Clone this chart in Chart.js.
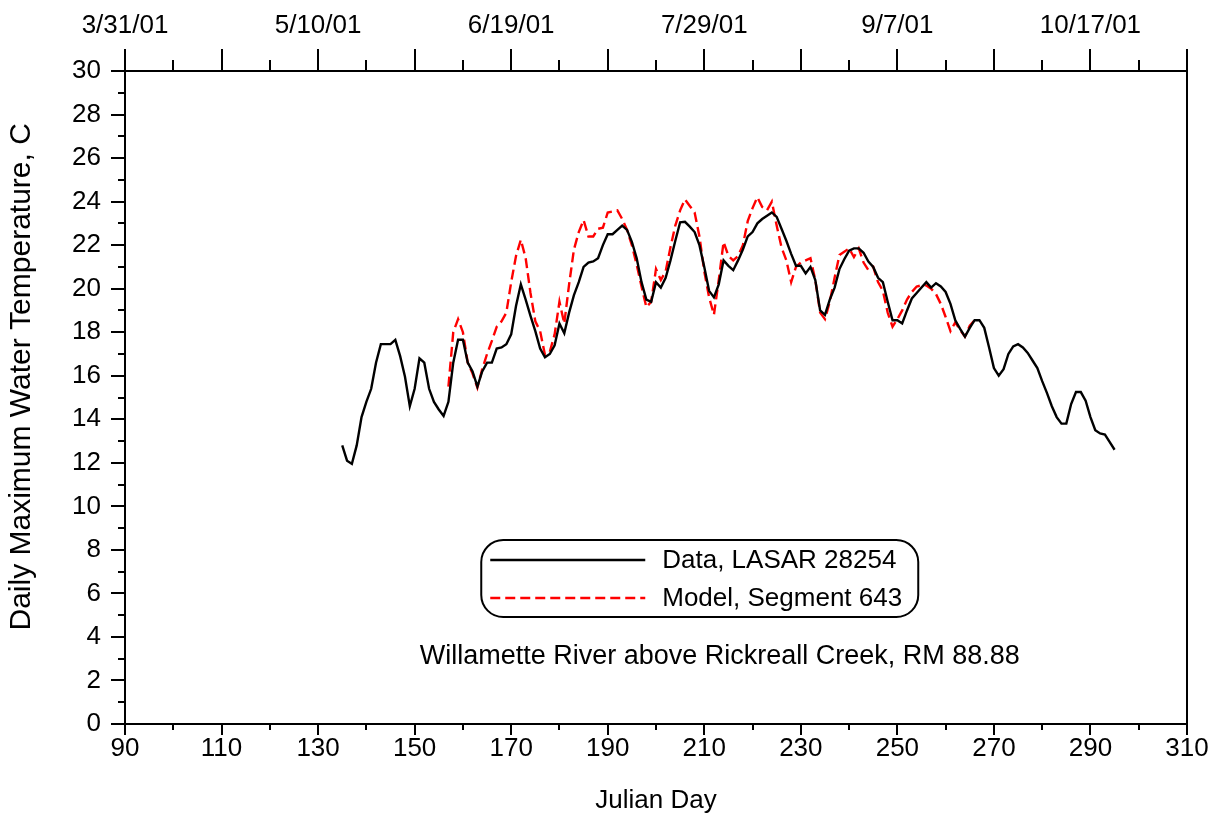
<!DOCTYPE html>
<html>
<head>
<meta charset="utf-8">
<script src="https://cdn.jsdelivr.net/npm/chart.js@4.4.1/dist/chart.umd.min.js"></script>
<style>
  body { margin: 0; background: #fff; }
  canvas { display: block; }
</style>
</head>
<body>
<canvas id="myChart" width="1216" height="816"></canvas>
<script>
// Daily max water temperature, LASAR 28254 (one value per day starting at day 135)
var dataStartDay = 135;
var dataTemps = [
    12.8, 12.1, 11.95, 12.8, 14.1, 14.8, 15.4, 16.6, 17.45, 17.45,
    17.45, 17.65, 16.9, 15.95, 14.6, 15.4, 16.8, 16.6, 15.4, 14.8,
    14.45, 14.15, 14.8, 16.6, 17.65, 17.65, 16.6, 16.2, 15.5, 16.2,
    16.6, 16.6, 17.25, 17.3, 17.45, 17.9, 19.2, 20.2, 19.5, 18.75,
    18.05, 17.25, 16.85, 17.0, 17.4, 18.4, 17.95, 18.9, 19.7, 20.3,
    21.0, 21.2, 21.25, 21.4, 22.0, 22.5, 22.5, 22.7, 22.9, 22.7,
    22.15, 21.4, 20.3, 19.5, 19.4, 20.3, 20.05, 20.5, 21.3, 22.2,
    23.05, 23.07, 22.85, 22.6, 22.0, 21.0, 19.9, 19.6, 20.2, 21.3,
    21.05, 20.85, 21.3, 21.8, 22.4, 22.6, 23.0, 23.2, 23.35, 23.5,
    23.3, 22.75, 22.2, 21.6, 21.05, 21.05, 20.7, 21.0, 20.4, 19.0,
    18.8, 19.5, 20.05, 20.9, 21.35, 21.75, 21.85, 21.85, 21.65, 21.25,
    21.0, 20.5, 20.3, 19.4, 18.55, 18.55, 18.4, 19.0, 19.55, 19.8,
    20.05, 20.3, 20.05, 20.25, 20.1, 19.85, 19.3, 18.55, 18.15, 17.8,
    18.2, 18.55, 18.55, 18.2, 17.3, 16.35, 16.0, 16.3, 17.0, 17.35,
    17.45, 17.3, 17.05, 16.7, 16.35, 15.75, 15.2, 14.6, 14.1, 13.8,
    13.8, 14.7, 15.25, 15.25, 14.85, 14.1, 13.5, 13.35, 13.3, 12.95,
    12.6
];

// Model output, segment 643 (one value per day starting at day 157)
var modelStartDay = 157;
var modelTemps = [
    15.5, 18.0, 18.6, 18.0, 16.6, 16.1, 15.45, 16.3, 17.0, 17.6,
    18.25, 18.5, 18.9, 20.3, 21.5, 22.25, 21.4, 19.8, 18.5, 18.05,
    16.95, 17.1, 17.9, 19.4, 18.4, 20.2, 21.8, 22.6, 23.15, 22.4,
    22.4, 22.75, 22.8, 23.5, 23.55, 23.6, 23.2, 22.7, 22.0, 21.1,
    20.1, 19.15, 19.4, 20.9, 20.4, 20.8, 21.9, 22.9, 23.6, 24.1,
    23.8, 23.5, 22.4, 20.8, 19.6, 18.8, 20.4, 22.15, 21.5, 21.3,
    21.5, 22.0, 23.1, 23.7, 24.2, 23.75, 23.6, 24.0, 22.9, 21.9,
    21.3, 20.3, 21.0, 21.2, 21.3, 21.4, 20.4, 18.9, 18.6, 19.4,
    20.5, 21.55, 21.7, 21.85, 21.45, 21.85, 21.2, 20.85, 21.0, 20.3,
    19.9, 18.9, 18.25, 18.6, 19.0, 19.5, 19.85, 20.1, 20.15, 20.15,
    20.0, 19.75, 19.3, 18.7, 18.05, 18.45, 18.1, 17.8, 18.3, 18.55
];

// top axis date labels (julian day -> date)
var topTickDays = [90, 130, 170, 210, 250, 290];
var topTickLabels = ['3/31/01', '5/10/01', '6/19/01', '7/29/01', '9/7/01', '10/17/01'];

var seriesLabels = ['Data, LASAR 28254', 'Model, Segment 643'];
var noteText = 'Willamette River above Rickreall Creek, RM 88.88';
var yTitle = 'Daily Maximum Water Temperature, C';

var FONT = 'Liberation Sans, Arial, sans-serif';
var FS = 26;

function toPoints(start, vals) {
    var pts = [];
    for (var i = 0; i < vals.length; i++) pts.push({x: start + i, y: vals[i]});
    return pts;
}

// draws major/minor tick marks on the axes
var axisMarks = {
    id: 'axisMarks',
    afterDraw: function (chart) {
        var ctx = chart.ctx, a = chart.chartArea;
        var sx = chart.scales.x, sy = chart.scales.y;
        ctx.save();
        ctx.strokeStyle = '#000';
        ctx.lineWidth = 2;
        ctx.beginPath();
        for (var d = sx.min; d <= sx.max; d += 10) {
            var px = Math.round(sx.getPixelForValue(d));
            var major = (d - sx.min) % 20 === 0;
            ctx.moveTo(px, a.bottom); ctx.lineTo(px, a.bottom + (major ? 11 : 6));
            ctx.moveTo(px, a.top); ctx.lineTo(px, a.top - (major ? 22 : 11));
        }
        for (var v = sy.min; v <= sy.max; v += 1) {
            var py = Math.round(sy.getPixelForValue(v));
            var maj = v % 2 === 0;
            ctx.moveTo(a.left, py); ctx.lineTo(a.left - (maj ? 14 : 7), py);
        }
        ctx.stroke();

        // y axis title, sits a bit above the middle of the axis
        ctx.translate(22, sy.getPixelForValue(15.95));
        ctx.rotate(-Math.PI / 2);
        ctx.font = '30px ' + FONT;
        ctx.fillStyle = '#000';
        ctx.textAlign = 'center';
        ctx.textBaseline = 'middle';
        ctx.fillText(yTitle, 0, 0);
        ctx.restore();
    }
};

// legend box + note inside the plot
var boxLegend = {
    id: 'boxLegend',
    afterDraw: function (chart) {
        var ctx = chart.ctx;
        var sx = chart.scales.x, sy = chart.scales.y;
        var bx = sx.getPixelForValue(163.8), by = sy.getPixelForValue(8.45);
        var bw = 437, bh = 77;
        ctx.save();
        ctx.strokeStyle = '#000';
        ctx.lineWidth = 2;
        ctx.beginPath();
        ctx.roundRect(bx, by, bw, bh, 22);
        ctx.stroke();
        ctx.font = FS + 'px ' + FONT;
        ctx.textBaseline = 'middle';
        ctx.fillStyle = '#000';
        chart.data.datasets.forEach(function (ds, i) {
            var ly = by + 20 + i * 38;
            ctx.beginPath();
            ctx.strokeStyle = ds.borderColor;
            ctx.lineWidth = ds.borderWidth;
            ctx.setLineDash(ds.borderDash || []);
            ctx.moveTo(bx + 9, ly);
            ctx.lineTo(bx + 164, ly);
            ctx.stroke();
            ctx.setLineDash([]);
            ctx.fillText(ds.label, bx + 181, ly + 1);
        });
        ctx.textAlign = 'center';
        ctx.font = '27px ' + FONT;
        ctx.fillText(noteText, bx + bw / 2 + 20, by + bh + 39);
        ctx.restore();
    }
};

function createChart() {
    var ctx = document.getElementById('myChart').getContext('2d');
    var tickFont = {family: FONT, size: FS};
    new Chart(ctx, {
        type: 'line',
        data: {
            datasets: [
                {
                    label: seriesLabels[0],
                    data: toPoints(dataStartDay, dataTemps),
                    borderColor: '#000000',
                    borderWidth: 2.4,
                    pointRadius: 0,
                    tension: 0,
                    fill: false
                },
                {
                    label: seriesLabels[1],
                    data: toPoints(modelStartDay, modelTemps),
                    borderColor: '#ff0000',
                    borderWidth: 2.4,
                    borderDash: [10, 5],
                    pointRadius: 0,
                    tension: 0,
                    fill: false
                }
            ]
        },
        options: {
            responsive: false,
            animation: false,
            devicePixelRatio: 1,
            layout: {padding: 0},
            plugins: {legend: {display: false}, tooltip: {enabled: false}},
            scales: {
                x: {
                    type: 'linear', position: 'bottom', min: 90, max: 310,
                    grid: {drawOnChartArea: false, drawTicks: false},
                    border: {color: '#000', width: 2},
                    ticks: {stepSize: 20, color: '#000', font: tickFont, padding: 9, maxRotation: 0, autoSkip: false},
                    title: {display: true, text: 'Julian Day', color: '#000', font: tickFont, padding: {top: 0, bottom: 0}},
                    afterFit: function (s) { s.height = 92; s.paddingLeft = 0; s.paddingRight = 0; }
                },
                x2: {
                    type: 'linear', position: 'top', min: 90, max: 310,
                    grid: {drawOnChartArea: false, drawTicks: false},
                    border: {color: '#000', width: 2},
                    ticks: {
                        stepSize: 10, color: '#000', font: tickFont, padding: 30, maxRotation: 0, autoSkip: false,
                        callback: function (v) {
                            var k = topTickDays.indexOf(v);
                            return k >= 0 ? topTickLabels[k] : '';
                        }
                    },
                    afterFit: function (s) { s.height = 71; s.paddingLeft = 0; s.paddingRight = 0; }
                },
                y: {
                    type: 'linear', position: 'left', min: 0, max: 30,
                    grid: {drawOnChartArea: false, drawTicks: false},
                    border: {color: '#000', width: 2},
                    ticks: {stepSize: 2, color: '#000', font: tickFont, padding: 24, autoSkip: false},
                    afterFit: function (s) { s.width = 125; }
                },
                y2: {
                    type: 'linear', position: 'right', min: 0, max: 30,
                    grid: {drawOnChartArea: false, drawTicks: false},
                    border: {color: '#000', width: 2},
                    ticks: {display: false},
                    afterFit: function (s) { s.width = 29; }
                }
            }
        },
        plugins: [axisMarks, boxLegend]
    });
}

createChart();
</script>
</body>
</html>
